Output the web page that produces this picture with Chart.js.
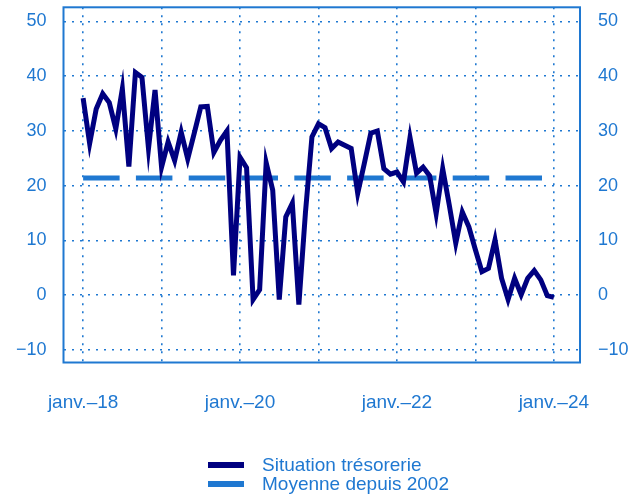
<!DOCTYPE html>
<html>
<head>
<meta charset="utf-8">
<script src="https://cdn.jsdelivr.net/npm/chart.js@4.4.0/dist/chart.umd.min.js"></script>
<style>
  html, body { margin: 0; padding: 0; background: #fff; }
  #wrap { position: relative; width: 640px; height: 496px; }
  .legend { position: absolute; left: 208px; top: 456px; font: 19px 'Liberation Sans', Arial, sans-serif; color: #1f78d1; }
  .item { display: flex; align-items: center; height: 18.5px; white-space: nowrap; }
  .swatch { width: 36px; height: 6px; margin-right: 18px; }
</style>
</head>
<body>
<div id="wrap">
  <canvas id="chart" width="640" height="496"></canvas>
  <div class="legend">
    <div class="item"><span class="swatch" style="background:#000080"></span>Situation trésorerie</div>
    <div class="item"><span class="swatch" style="background:#1f78d1"></span>Moyenne depuis 2002</div>
  </div>
</div>
<script>
// monthly values, janv.-18 -> janv.-24
const situation = [
  36.0, 27.7, 34.0, 36.8, 35.2, 30.4, 37.7, 23.5, 40.7, 39.8, 26.8, 37.5,
  23.4, 28.0, 24.6, 29.8, 24.9, 29.6, 34.4, 34.5, 26.1, 28.3, 30.0, 3.6,
  25.2, 23.3, -0.8, 1.0, 24.2, 19.2, -0.8, 14.3, 16.8, -1.7, 15.0, 28.9,
  31.3, 30.6, 26.8, 28.0, 27.4, 26.8, 18.6, 24.0, 29.6, 30.0, 23.1, 22.1,
  22.5, 20.7, 28.8, 22.3, 23.4, 21.8, 14.9, 23.1, 16.5, 9.5, 15.2, 12.5,
  8.3, 4.3, 4.9, 10.1, 3.1, -0.8, 3.1, 0.1, 3.1, 4.5, 2.8, -0.1,
  -0.4
];
const moyenne = 21.4;

const yTicks = [-10, 0, 10, 20, 30, 40, 50];
const xTickPos = [0, 12, 24, 36, 48, 60, 72];
const xTickLabels = ['janv.\u201318', '', 'janv.\u201320', '', 'janv.\u201322', '', 'janv.\u201324'];

const BLUE = '#1f78d1';
const NAVY = '#000080';
const FONT = { family: "'Liberation Sans', Arial, sans-serif", size: 18 };

const fmtY = v => (v < 0 ? '\u2212' + Math.abs(v) : String(v));

// drop the label overflow padding so the plot box keeps its place
const noPad = s => { s.paddingTop = 0; s.paddingBottom = 0; s.paddingLeft = 0; s.paddingRight = 0; };

const frame = {
    id: 'frame',
    afterDraw(chart) {
        const { ctx, chartArea: a } = chart;
        ctx.save();
        ctx.strokeStyle = BLUE;
        ctx.lineWidth = 2;
        ctx.strokeRect(a.left, a.top, a.right - a.left, a.bottom - a.top);
        ctx.restore();
    }
};

new Chart(document.getElementById('chart'), {
    type: 'line',
    data: {
        datasets: [
            {
                label: 'Situation trésorerie',
                data: situation.map((v, i) => ({ x: i, y: v })),
                borderColor: NAVY,
                borderWidth: 5,
                pointRadius: 0,
                tension: 0
            },
            {
                label: 'Moyenne depuis 2002',
                data: [{ x: 0, y: moyenne }, { x: situation.length - 1, y: moyenne }],
                borderColor: BLUE,
                borderWidth: 5,
                borderDash: [36.5, 16.3],
                pointRadius: 0
            }
        ]
    },
    options: {
        responsive: false,
        animation: false,
        layout: { padding: { top: 7.3, left: 0, right: 0, bottom: 0 } },
        plugins: { legend: { display: false }, tooltip: { enabled: false } },
        scales: {
            x: {
                type: 'linear',
                min: -3,
                max: 76,
                afterBuildTicks: s => { s.ticks = xTickPos.map(v => ({ value: v })); },
                afterFit: s => { s.height = 133.5; noPad(s); },
                grid: { color: BLUE, lineWidth: 1.6, drawTicks: false },
                border: { display: false, dash: [2, 6] },
                ticks: {
                    autoSkip: false,
                    maxRotation: 0,
                    padding: 29,
                    color: BLUE,
                    font: { family: FONT.family, size: 19 },
                    callback: v => xTickLabels[xTickPos.indexOf(v)]
                }
            },
            y: {
                position: 'left',
                min: -12.3,
                max: 52.6,
                afterBuildTicks: s => { s.ticks = yTicks.map(v => ({ value: v })); },
                afterFit: s => { s.width = 63.5; noPad(s); },
                grid: { color: BLUE, lineWidth: 1.6, drawTicks: false },
                border: { display: false, dash: [2, 6] },
                ticks: { padding: 17, color: BLUE, font: FONT, callback: fmtY }
            },
            y2: {
                position: 'right',
                min: -12.3,
                max: 52.6,
                afterBuildTicks: s => { s.ticks = yTicks.map(v => ({ value: v })); },
                afterFit: s => { s.width = 60; noPad(s); },
                grid: { display: false, drawTicks: false },
                border: { display: false },
                ticks: { padding: 18, color: BLUE, font: FONT, callback: fmtY }
            }
        }
    },
    plugins: [frame]
});
</script>
</body>
</html>
